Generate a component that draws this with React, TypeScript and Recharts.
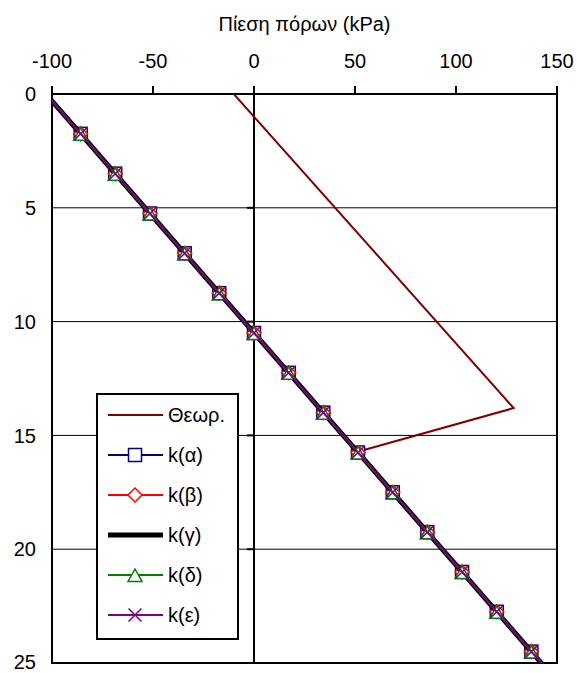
import React from 'react';
import {
  ScatterChart, Scatter, XAxis, YAxis, CartesianGrid, ReferenceLine, ReferenceArea
} from 'recharts';

const FONT = '"Liberation Sans", Arial, sans-serif';

// depth (m) of each reading
const kDepth = [0, 1.75, 3.5, 5.25, 7, 8.75, 10.5, 12.25, 14, 15.75, 17.5, 19.25, 21, 22.75, 24.5, 26.25];
// pore pressure (kPa) read for every k case, they all fall on the same line
const kPressure = [-103.0, -85.8, -68.7, -51.5, -34.3, -17.2, 0, 17.2, 34.3, 51.5, 68.7, 85.8, 103.0, 120.2, 137.3, 154.5];

const theoryDepth = [0, 13.8, 15.75];
const theoryPressure = [-10, 128.5, 50];

const xTicks = [-100, -50, 0, 50, 100, 150];
const yTicks = [0, 5, 10, 15, 20, 25];
const axisCrossTicks = [5, 10, 15, 20];

const toPoints = (p: number[], d: number[]) => p.map((v, i) => ({ p: v, d: d[i] }));

type MarkerKind = 'none' | 'square' | 'diamond' | 'triangle' | 'cross';

const series: { name: string; color: string; width: number; marker: MarkerKind; pressure: number[]; depth: number[] }[] = [
  { name: 'Θεωρ.', color: '#800000', width: 2, marker: 'none', pressure: theoryPressure, depth: theoryDepth },
  { name: 'k(α)', color: '#000080', width: 2, marker: 'square', pressure: kPressure, depth: kDepth },
  { name: 'k(β)', color: '#FF0000', width: 2, marker: 'diamond', pressure: kPressure, depth: kDepth },
  { name: 'k(γ)', color: '#000000', width: 5, marker: 'none', pressure: kPressure, depth: kDepth },
  { name: 'k(δ)', color: '#008000', width: 2, marker: 'triangle', pressure: kPressure, depth: kDepth },
  { name: 'k(ε)', color: '#800080', width: 2, marker: 'cross', pressure: kPressure, depth: kDepth },
];

const Marker = ({ kind, x, y, color }: { kind: MarkerKind; x: number; y: number; color: string }) => {
  switch (kind) {
    case 'square':
      return <rect x={x - 6.5} y={y - 6.5} width={13} height={13} fill="#fff" stroke={color} strokeWidth={1.5} />;
    case 'diamond':
      return <polygon points={`${x},${y - 7} ${x + 7},${y} ${x},${y + 7} ${x - 7},${y}`} fill="#fff" stroke={color} strokeWidth={1.5} />;
    case 'triangle':
      return <polygon points={`${x},${y - 6} ${x + 7},${y + 6.5} ${x - 7},${y + 6.5}`} fill="#fff" stroke={color} strokeWidth={1.5} />;
    case 'cross':
      return <path d={`M${x - 6.5},${y - 6.5}L${x + 6.5},${y + 6.5}M${x - 6.5},${y + 6.5}L${x + 6.5},${y - 6.5}`} stroke={color} strokeWidth={1.5} />;
    default:
      return <g />;
  }
};

const LegendBox = () => (
  <div style={{
    position: 'absolute', left: 96, top: 393, width: 139, height: 243,
    border: '2px solid #000', background: '#fff', fontFamily: FONT, fontSize: 20,
  }}>
    {series.map((s, i) => (
      <div key={s.name} style={{ position: 'absolute', left: 9, top: 6 + i * 40, height: 28, display: 'flex', alignItems: 'center' }}>
        <svg width={58} height={28}>
          <line x1={1} y1={14} x2={56} y2={14} stroke={s.color} strokeWidth={s.width} />
          <Marker kind={s.marker} x={28} y={14} color={s.color} />
        </svg>
        <span style={{ marginLeft: 3, color: '#000' }}>{s.name}</span>
      </div>
    ))}
  </div>
);

const App = () => {
  return (
    <div style={{ position: 'absolute', left: 0, top: 0, width: 577, height: 673 }}>
      <ScatterChart width={577} height={673} margin={{ top: 14, right: 20, bottom: 10, left: 7 }}>
        <CartesianGrid vertical={false} stroke="#000" strokeWidth={1} />
        <XAxis
          type="number" dataKey="p" orientation="top" domain={[-100, 150]} ticks={xTicks}
          allowDataOverflow height={80} axisLine={false}
          tickLine={{ stroke: '#000', strokeWidth: 2 }} tickSize={8} tickMargin={18}
          tick={{ fill: '#000', fontSize: 20, fontFamily: FONT }}
          label={{ value: 'Πίεση πόρων (kPa)', position: 'insideTop', offset: 3, fill: '#000', fontSize: 20, fontFamily: FONT }}
        />
        <YAxis
          type="number" dataKey="d" reversed domain={[0, 25]} ticks={yTicks}
          allowDataOverflow width={45} axisLine={false} tickLine={false} tickMargin={10}
          tick={{ fill: '#000', fontSize: 20, fontFamily: FONT }}
        />
        <ReferenceLine x={0} stroke="#000" strokeWidth={2} />
        {axisCrossTicks.map((t) => (
          <ReferenceLine key={t} segment={[{ x: -3.5, y: t }, { x: 0, y: t }]} stroke="#000" strokeWidth={2} />
        ))}
        <ReferenceArea x1={-100} x2={150} y1={0} y2={25} fill="none" stroke="#000" strokeWidth={2} />
        {series.map((s) => (
          <Scatter
            key={s.name}
            name={s.name}
            data={toPoints(s.pressure, s.depth)}
            fill={s.color}
            line={{ stroke: s.color, strokeWidth: s.width }}
            lineType="joint"
            legendType="none"
            isAnimationActive={false}
            shape={(props: any) => {
              const d = props.payload ? props.payload.d : props.d;
              if (s.marker === 'none' || d === 0) return <g />;
              return <Marker kind={s.marker} x={props.cx} y={props.cy} color={s.color} />;
            }}
          />
        ))}
      </ScatterChart>
      <LegendBox />
    </div>
  );
};

export default App;
